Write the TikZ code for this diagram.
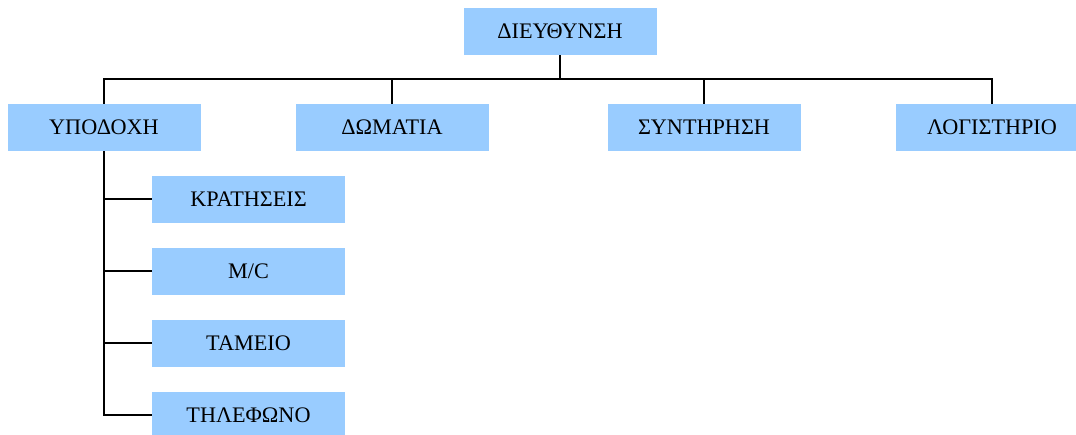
\documentclass[tikz,border=0pt]{standalone}
\usepackage{fontspec}
\setmainfont{Liberation Serif}
\definecolor{boxblue}{RGB}{153,204,255}
\begin{document}
\begin{tikzpicture}[
    unit/.style={shape=rectangle, fill=boxblue, minimum width=4.825cm, minimum height=1.175cm, inner sep=0pt, font=\fontsize{15.8}{19}\selectfont},
    link/.style={draw=black, line width=1.4pt}]
    \useasboundingbox (0,0) rectangle (26.9,-10.85);
    \begin{scope}
    \clip (0,0) rectangle (26.9,-10.85);
    \node[unit] (D) at (14.0,-0.79) {ΔΙΕΥΘΥΝΣΗ};
    \coordinate (bus) at (14.0,-1.975);

    \node[unit] (A) at (2.6,-3.19) {ΥΠΟΔΟΧΗ};
    \node[unit] (B) at (9.8,-3.19) {ΔΩΜΑΤΙΑ};
    \node[unit] (C) at (17.6,-3.19) {ΣΥΝΤΗΡΗΣΗ};
    \node[unit] (E) at (24.8,-3.19) {ΛΟΓΙΣΤΗΡΙΟ};

    \node[unit] (A1) at (6.2125,-4.975) {ΚΡΑΤΗΣΕΙΣ};
    \node[unit] (A2) at (6.2125,-6.775) {M/C};
    \node[unit] (A3) at (6.2125,-8.575) {ΤΑΜΕΙΟ};
    \node[unit] (A4) at (6.2125,-10.375) {ΤΗΛΕΦΩΝΟ};

    \draw[link, line width=2pt] (D) -- (bus);
    \draw[link] (A.north) |- (bus);
    \draw[link] (B.north) |- (bus);
    \draw[link] (C.north) |- (bus);
    \draw[link] (E.north) |- (bus);

    \draw[link] (A.south) |- (A1.west);
    \draw[link] (A.south) |- (A2.west);
    \draw[link] (A.south) |- (A3.west);
    \draw[link] (A.south) |- (A4.west);
    \end{scope}
\end{tikzpicture}
\end{document}
